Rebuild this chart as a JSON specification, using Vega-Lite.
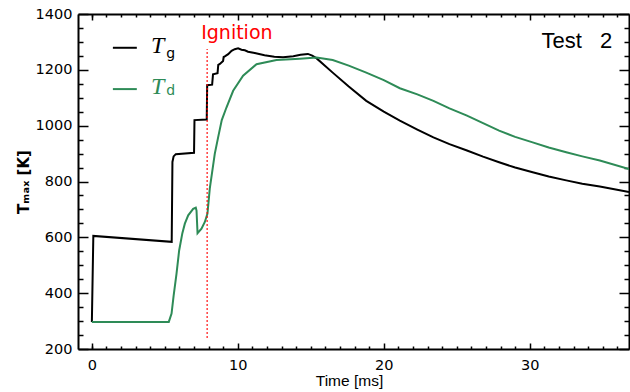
{
  "$schema": "https://vega.github.io/schema/vega-lite/v6.json",
  "width": 551,
  "height": 335,
  "autosize": "none",
  "padding": {"left": 78, "top": 14, "right": 1, "bottom": 43},
  "background": "white",
  "config": {
    "view": {"stroke": null},
    "font": "DejaVu Sans",
    "axis": {
      "domainColor": "black",
      "domainWidth": 2,
      "tickColor": "black",
      "tickWidth": 1.5,
      "labelColor": "black",
      "labelFont": "DejaVu Sans",
      "labelFontSize": 14.5,
      "titleColor": "black",
      "titleFont": "Liberation Sans",
      "titleFontWeight": "normal",
      "grid": false
    }
  },
  "datasets": {
    "gas": [
      {"time": 0, "T": 297}, {"time": 0.1, "T": 605}, {"time": 5.47, "T": 584}, {"time": 5.52, "T": 870},
      {"time": 5.6, "T": 890}, {"time": 5.75, "T": 898}, {"time": 7.0, "T": 903}, {"time": 7.03, "T": 1020},
      {"time": 7.87, "T": 1022}, {"time": 7.9, "T": 1145}, {"time": 8.24, "T": 1147}, {"time": 8.3, "T": 1184},
      {"time": 8.61, "T": 1188}, {"time": 8.66, "T": 1218}, {"time": 8.77, "T": 1221}, {"time": 8.99, "T": 1232},
      {"time": 9.03, "T": 1246}, {"time": 9.11, "T": 1248}, {"time": 9.34, "T": 1256}, {"time": 9.57, "T": 1268},
      {"time": 9.79, "T": 1274}, {"time": 10.02, "T": 1277}, {"time": 10.25, "T": 1272}, {"time": 10.48, "T": 1270},
      {"time": 10.7, "T": 1265}, {"time": 11.16, "T": 1260}, {"time": 11.83, "T": 1252}, {"time": 12.5, "T": 1247},
      {"time": 13.1, "T": 1245}, {"time": 13.8, "T": 1249}, {"time": 14.3, "T": 1254}, {"time": 14.8, "T": 1257},
      {"time": 15.1, "T": 1251}, {"time": 15.4, "T": 1241}, {"time": 16.5, "T": 1190}, {"time": 17.6, "T": 1140},
      {"time": 18.8, "T": 1089}, {"time": 20, "T": 1050}, {"time": 21.1, "T": 1018}, {"time": 22.3, "T": 986},
      {"time": 23.4, "T": 958}, {"time": 24.5, "T": 934}, {"time": 25.7, "T": 911}, {"time": 26.8, "T": 889},
      {"time": 27.9, "T": 869}, {"time": 29.0, "T": 850}, {"time": 30.2, "T": 833}, {"time": 31.3, "T": 818},
      {"time": 32.5, "T": 804}, {"time": 33.6, "T": 792}, {"time": 34.8, "T": 782}, {"time": 35.8, "T": 772},
      {"time": 36.8, "T": 762}
    ],
    "droplet": [
      {"time": 0, "T": 297}, {"time": 5.27, "T": 297}, {"time": 5.46, "T": 327}, {"time": 5.6, "T": 390},
      {"time": 5.8, "T": 470}, {"time": 5.98, "T": 553}, {"time": 6.2, "T": 615}, {"time": 6.37, "T": 649},
      {"time": 6.6, "T": 679}, {"time": 6.94, "T": 702}, {"time": 7.12, "T": 706}, {"time": 7.17, "T": 696},
      {"time": 7.24, "T": 615}, {"time": 7.51, "T": 631}, {"time": 7.74, "T": 655}, {"time": 7.92, "T": 685},
      {"time": 8.08, "T": 775}, {"time": 8.42, "T": 899}, {"time": 8.65, "T": 958}, {"time": 8.9, "T": 1020},
      {"time": 9.22, "T": 1065}, {"time": 9.68, "T": 1125}, {"time": 10.36, "T": 1179}, {"time": 11.28, "T": 1220},
      {"time": 12.65, "T": 1235}, {"time": 14.25, "T": 1240}, {"time": 15.39, "T": 1244}, {"time": 16.5, "T": 1235},
      {"time": 17.6, "T": 1215}, {"time": 18.8, "T": 1190}, {"time": 20, "T": 1163}, {"time": 21.1, "T": 1134},
      {"time": 22.3, "T": 1112}, {"time": 23.4, "T": 1089}, {"time": 24.5, "T": 1062}, {"time": 25.7, "T": 1036},
      {"time": 26.8, "T": 1009}, {"time": 27.9, "T": 982}, {"time": 29, "T": 960}, {"time": 30.2, "T": 940},
      {"time": 31.3, "T": 922}, {"time": 32.5, "T": 905}, {"time": 33.6, "T": 890}, {"time": 34.8, "T": 875},
      {"time": 36.8, "T": 845}
    ],
    "events": [{"event": "Ignition", "time": 7.9}],
    "one": [{}]
  },
  "resolve": {"axis": {"x": "independent", "y": "independent"}},
  "layer": [
    {
      "data": {"name": "gas"},
      "mark": {"type": "line", "color": "black", "strokeWidth": 2, "clip": true},
      "encoding": {
        "x": {"field": "time", "type": "quantitative", "scale": {"domain": [-0.95, 36.8], "nice": false, "zero": false},
          "axis": {"orient": "bottom", "values": [0, 10, 20, 30], "tickSize": 6, "offset": -6, "labels": false, "domain": false, "title": null}},
        "y": {"field": "T", "type": "quantitative", "scale": {"domain": [200, 1400], "nice": false, "zero": false},
          "axis": {"orient": "left", "values": [200, 400, 600, 800, 1000, 1200, 1400], "tickSize": 10, "offset": -10, "labels": false, "domain": false, "title": null}}
      }
    },
    {
      "data": {"name": "droplet"},
      "mark": {"type": "line", "color": "#2e8b57", "strokeWidth": 2, "clip": true},
      "encoding": {
        "x": {"field": "time", "type": "quantitative", "scale": {"domain": [-0.95, 36.8], "nice": false, "zero": false},
          "axis": {"orient": "top", "values": [0, 10, 20, 30], "tickSize": 6, "offset": -6, "labels": false, "domain": false, "title": null}},
        "y": {"field": "T", "type": "quantitative", "scale": {"domain": [200, 1400], "nice": false, "zero": false},
          "axis": {"orient": "right", "values": [200, 400, 600, 800, 1000, 1200, 1400], "tickSize": 10, "offset": -10, "labels": false, "domain": false, "title": null}}
      }
    },
    {
      "data": {"name": "events"},
      "mark": {"type": "rule", "color": "red", "strokeWidth": 1.5, "strokeDash": [1.5, 2.5]},
      "encoding": {
        "x": {"field": "time", "type": "quantitative", "scale": {"domain": [-0.95, 36.8], "nice": false, "zero": false},
          "axis": {"orient": "bottom", "values": [0,1,2,3,4,5,6,7,8,9,11,12,13,14,15,16,17,18,19,21,22,23,24,25,26,27,28,29,31,32,33,34,35,36], "tickSize": 3, "offset": -3, "labels": false, "domain": false, "title": null}},
        "y": {"datum": 240, "type": "quantitative", "scale": {"domain": [200, 1400], "nice": false, "zero": false},
          "axis": {"orient": "left", "values": [250,300,350,450,500,550,650,700,750,850,900,950,1050,1100,1150,1250,1300,1350], "tickSize": 5, "offset": -5, "labels": false, "domain": false, "title": null}},
        "y2": {"datum": 1275}
      }
    },
    {
      "data": {"name": "events"},
      "mark": {"type": "text", "color": "red", "font": "DejaVu Sans", "fontSize": 19, "align": "left", "baseline": "alphabetic", "dx": -6},
      "encoding": {
        "text": {"field": "event"},
        "x": {"field": "time", "type": "quantitative", "scale": {"domain": [-0.95, 36.8], "nice": false, "zero": false},
          "axis": {"orient": "top", "values": [0,1,2,3,4,5,6,7,8,9,11,12,13,14,15,16,17,18,19,21,22,23,24,25,26,27,28,29,31,32,33,34,35,36], "tickSize": 3, "offset": -3, "labels": false, "domain": false, "title": null}},
        "y": {"datum": 1309, "type": "quantitative", "scale": {"domain": [200, 1400], "nice": false, "zero": false},
          "axis": {"orient": "right", "values": [250,300,350,450,500,550,650,700,750,850,900,950,1050,1100,1150,1250,1300,1350], "tickSize": 5, "offset": -5, "labels": false, "domain": false, "title": null}}
      }
    },
    {
      "data": {"name": "one"},
      "mark": {"type": "text", "color": "black", "font": "Liberation Sans", "fontSize": 22, "align": "left", "baseline": "alphabetic", "text": "Test \u00a0\u00a02"},
      "encoding": {
        "x": {"datum": 30.8, "type": "quantitative", "scale": {"domain": [-0.95, 36.8], "nice": false, "zero": false},
          "axis": {"orient": "bottom", "values": [0, 10, 20, 30], "format": "d", "ticks": false, "domain": true, "labelPadding": 9, "title": "Time [ms]", "titleFontSize": 15.5, "titlePadding": 2, "titleX": 271}},
        "y": {"datum": 1279, "type": "quantitative", "scale": {"domain": [200, 1400], "nice": false, "zero": false},
          "axis": {"orient": "left", "values": [200, 400, 600, 800, 1000, 1200, 1400], "format": "d", "ticks": false, "domain": true, "labelPadding": 6, "title": "Tₘₐₓ [K]", "titleFont": "DejaVu Sans", "titleFontSize": 15, "titleFontWeight": "bold", "titlePadding": 4}}
      }
    },
    {
      "data": {"name": "one"},
      "mark": {"type": "rule", "color": "black", "strokeWidth": 2},
      "encoding": {
        "x": {"datum": 1.44, "type": "quantitative", "scale": {"domain": [-0.95, 36.8], "nice": false, "zero": false},
          "axis": {"orient": "top", "ticks": false, "labels": false, "domain": true, "title": null}},
        "x2": {"datum": 3.08},
        "y": {"datum": 1279, "type": "quantitative", "scale": {"domain": [200, 1400], "nice": false, "zero": false},
          "axis": {"orient": "right", "ticks": false, "labels": false, "domain": true, "title": null}}
      }
    },
    {
      "data": {"name": "one"},
      "mark": {"type": "rule", "color": "#2e8b57", "strokeWidth": 2},
      "encoding": {
        "x": {"datum": 1.44, "type": "quantitative", "axis": null},
        "x2": {"datum": 3.08},
        "y": {"datum": 1131, "type": "quantitative", "axis": null}
      }
    },
    {
      "data": {"name": "one"},
      "mark": {"type": "text", "color": "black", "font": "Liberation Serif", "fontStyle": "italic", "fontSize": 24, "align": "left", "baseline": "alphabetic", "text": "T"},
      "encoding": {
        "x": {"datum": 4.05, "type": "quantitative", "axis": null},
        "y": {"datum": 1259, "type": "quantitative", "axis": null}
      }
    },
    {
      "data": {"name": "one"},
      "mark": {"type": "text", "color": "black", "font": "DejaVu Sans", "fontSize": 14, "align": "left", "baseline": "alphabetic", "text": "g"},
      "encoding": {
        "x": {"datum": 5.1, "type": "quantitative", "axis": null},
        "y": {"datum": 1241, "type": "quantitative", "axis": null}
      }
    },
    {
      "data": {"name": "one"},
      "mark": {"type": "text", "color": "#2e8b57", "font": "Liberation Serif", "fontStyle": "italic", "fontSize": 24, "align": "left", "baseline": "alphabetic", "text": "T"},
      "encoding": {
        "x": {"datum": 4.05, "type": "quantitative", "axis": null},
        "y": {"datum": 1113, "type": "quantitative", "axis": null}
      }
    },
    {
      "data": {"name": "one"},
      "mark": {"type": "text", "color": "#2e8b57", "font": "DejaVu Sans", "fontSize": 14, "align": "left", "baseline": "alphabetic", "text": "d"},
      "encoding": {
        "x": {"datum": 5.1, "type": "quantitative", "axis": null},
        "y": {"datum": 1110, "type": "quantitative", "axis": null}
      }
    }
  ]
}
